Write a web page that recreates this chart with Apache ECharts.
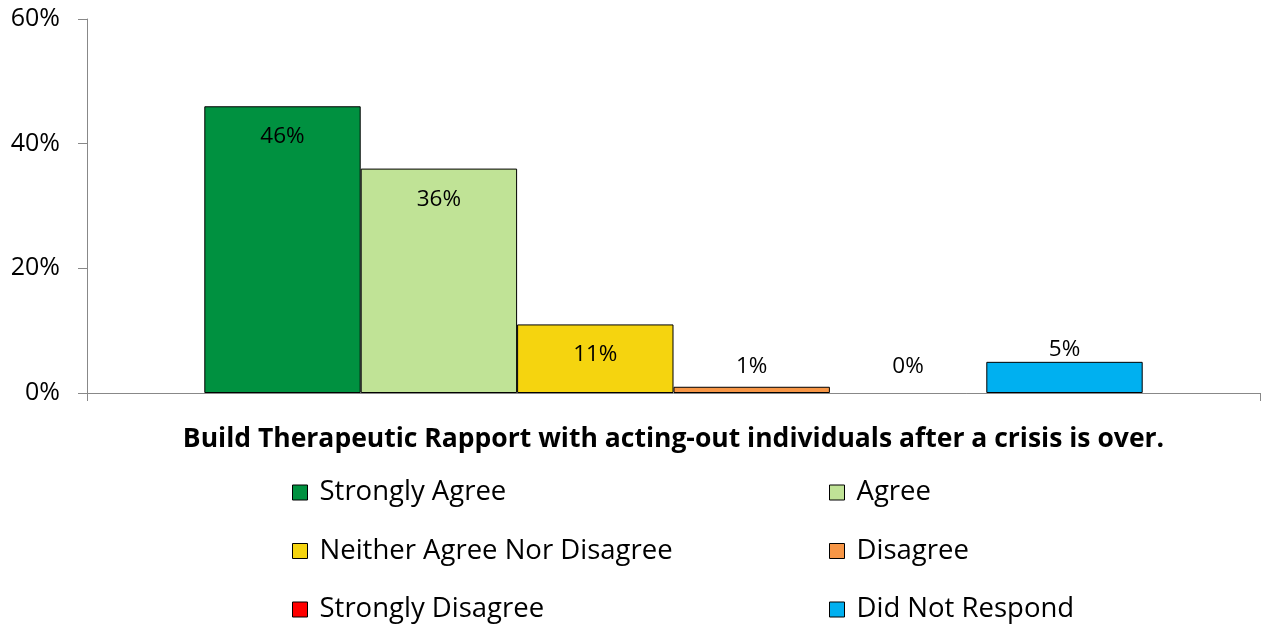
<!DOCTYPE html>
<html><head><meta charset="utf-8">
<script src="https://cdn.jsdelivr.net/npm/echarts@6/dist/echarts.min.js"></script>
<style>html,body{margin:0;padding:0;background:#fff}#c{width:1263px;height:626px}</style>
</head><body><div id="c"></div>
<script>
const categories = ['Build Therapeutic Rapport with acting-out individuals after a crisis is over.'];
const seriesNames = ['Strongly Agree','Agree','Neither Agree Nor Disagree','Disagree','Strongly Disagree','Did Not Respond'];
const seriesValues = [46, 36, 11, 1, 0, 5];
const seriesColors = ['#009140','#C0E396','#F5D40F','#F79646','#FF0000','#00B0F0'];
const yTicks = [0, 20, 40, 60];

const labelDistance = [19, 19, 19, 9, 15, 1];
const FONT = '"Open Sans", sans-serif';
const chart = echarts.init(document.getElementById('c'), null, {renderer:'canvas'});
const series = seriesNames.map((n,i)=>({
  name:n, type:'bar', data:[seriesValues[i]],
  barGap:'0%', barCategoryGap:'20%',
  itemStyle:{color:seriesColors[i], borderColor:'#000', borderWidth: seriesValues[i] > 0 ? 1 : 0},
  label:{show:true, position: seriesValues[i] >= 10 ? 'insideTop' : 'top', distance: labelDistance[i],
    formatter:p=>p.value+'%', color:'#000', fontSize:22.5, fontFamily:FONT},
  animation:false
}));
const legendCommon = {
  orient:'vertical', top:478.5, padding:0, itemWidth:15, itemHeight:15, itemGap:30.5,
  icon:'rect',
  itemStyle:{borderColor:'#000', borderWidth:1},
  textStyle:{fontSize:27.5, lineHeight:28, color:'#000', fontFamily:FONT, padding:[0,0,0,7]},
  selectedMode:false
};
chart.setOption({
  animation:false,
  textStyle:{fontFamily:FONT},
  grid:{left:87, right:3, top:19, bottom:233, containLabel:false},
  legend:[
    Object.assign({}, legendCommon, {left:292, data:[seriesNames[0],seriesNames[2],seriesNames[4]]}),
    Object.assign({}, legendCommon, {left:829, data:[seriesNames[1],seriesNames[3],seriesNames[5]]})
  ],
  xAxis:{type:'category', data:categories, boundaryGap:true,
    axisLine:{lineStyle:{color:'#888', width:1}},
    axisTick:{show:true, length:8, lineStyle:{color:'#888'}},
    axisLabel:{show:false},
    name:categories[0], nameLocation:'middle', nameGap:33,
    nameTextStyle:{fontSize:26.5, fontWeight:'bold', color:'#000', fontFamily:FONT}
  },
  yAxis:{type:'value', min:yTicks[0], max:yTicks[yTicks.length-1], interval:20,
    axisLine:{show:true, lineStyle:{color:'#888'}},
    axisTick:{show:true, length:9, lineStyle:{color:'#888'}},
    splitLine:{show:false},
    axisLabel:{formatter:v=>v+'%', fontSize:25, color:'#000', margin:27, fontFamily:FONT}
  },
  series: series
});
</script></body></html>
